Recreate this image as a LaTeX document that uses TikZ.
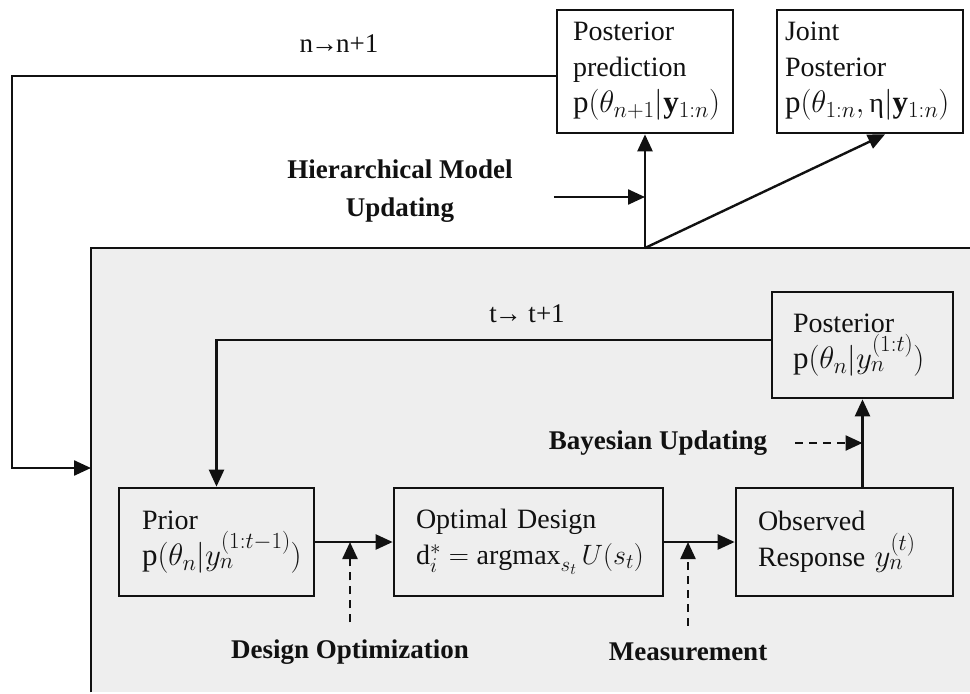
\RequirePackage{fix-cm}
\documentclass[tikz,border=0pt]{standalone}
\usepackage{amsmath}
\usepackage{fontspec}
\setmainfont{Liberation Serif}
\usetikzlibrary{arrows.meta}
\DeclareMathSizes{28}{31}{23}{18}
\DeclareMathSizes{27}{28}{21}{16}
\definecolor{graybg}{HTML}{EEEEEE}
\definecolor{ink}{HTML}{111111}
\newcommand\boxfont{\fontsize{28}{36}\selectfont}
\newcommand\lblfont{\fontsize{27}{38}\selectfont\bfseries}
\tikzset{
  box/.style={draw=ink, line width=2.7pt, rectangle, align=left, inner ysep=0pt, font=\boxfont, text=ink},
  arr/.style={draw=ink, line width=2.4pt, -{Triangle[length=17pt,width=15pt]}},
  darr/.style={arr, dash pattern=on 8pt off 6pt},
  lbl/.style={font=\lblfont, align=center, inner sep=2pt, text=ink},
  txt/.style={font=\fontsize{27}{32}\selectfont, inner sep=2pt, text=ink},
}
\begin{document}
\begin{tikzpicture}[x=1pt,y=-1pt]
\useasboundingbox (0,0) rectangle (970,694);
% inner gray region
\node[fill=graybg, minimum width=900pt, minimum height=444pt, anchor=north west, inner sep=0pt] (inner) at (91,248) {};
\draw[draw=ink, line width=2.7pt] (inner.south west) -- (inner.north west) -- (inner.north east);
\coordinate (top) at (645,248);
\coordinate (loopL) at (12,76);
\coordinate (entry) at (91,468);

% boxes
\node[box, minimum width=176pt, minimum height=123pt, inner xsep=16pt, text width=144pt] (pp) at (645,71.5)
  {Posterior\\prediction\\\mbox{$\mathrm{p}(\theta_{n+1}|\mathbf{y}_{1:n})$}};
\node[box, minimum width=186pt, minimum height=123pt, inner xsep=8pt, text width=170pt] (joint) at (870,71.5)
  {Joint\\Posterior\\\mbox{$\mathrm{p}(\theta_{1:n},\mbox{η}|\mathbf{y}_{1:n})$}};
\node[box, minimum width=181pt, minimum height=106pt, inner xsep=21pt, text width=139pt] (post) at (862.5,345)
  {Posterior\\\mbox{$\mathrm{p}(\theta_n|y_n^{(1:t)})$}};
\node[box, minimum width=195pt, minimum height=108pt, inner xsep=23pt, text width=149pt] (prior) at (216.5,542)
  {Prior\\\mbox{$\mathrm{p}(\theta_n|y_n^{(1:t-1)})$}};
\node[box, minimum width=269pt, minimum height=108pt, inner xsep=22pt, text width=225pt] (opt) at (528.5,542)
  {Optimal Design\\\mbox{\fontsize{27}{36}\selectfont$\mathrm{d}_i^{*}=\operatorname{argmax}_{s_t}U(s_t)$}};
\node[box, minimum width=217pt, minimum height=108pt, inner xsep=22pt, text width=173pt] (obs) at (844.5,542)
  {Observed\\\mbox{Response $y_n^{(t)}$}};

% labels
\node[txt] (nlab) at (339,44) {n\kern-2pt→\kern-2pt n+1};
\node[txt] (tlab) at (527,314) {t\kern-2pt→ t+1};
\node[lbl] (hlab) at (400,191) {Hierarchical Model\\Updating};
\node[lbl] (blab) at (658,443) {Bayesian Updating};
\node[lbl] (dlab) at (350,652) {Design Optimization};
\node[lbl] (mlab) at (688,652) {Measurement};

% outer loop
\draw[arr] ([yshift=-4.5pt]pp.west) -- (loopL) -- (loopL |- entry) -- (entry);
\draw[arr] (top) -- (pp.south);
\draw[arr] (top) -- ([xshift=15pt]joint.south);
\draw[arr, shorten <=39pt] ([yshift=-6pt]hlab.east) -- ([yshift=-6pt]hlab.east -| top);

% inner loop
\draw[arr] ([yshift=5pt]post.west) -| (prior.north);
\draw[arr] (prior.east) -- (opt.west);
\draw[arr] (opt.east) -- (obs.west);
\draw[arr] (obs.north -| post.south) -- (post.south);

% dashed influences
\draw[darr, shorten <=15pt] (dlab.north) -- (dlab.north |- prior.east);
\draw[darr, shorten <=15pt] (mlab.north) -- (mlab.north |- opt.east);
\draw[darr, shorten <=26pt] (blab.east) -- (blab.east -| post.south);
\end{tikzpicture}
\end{document}
